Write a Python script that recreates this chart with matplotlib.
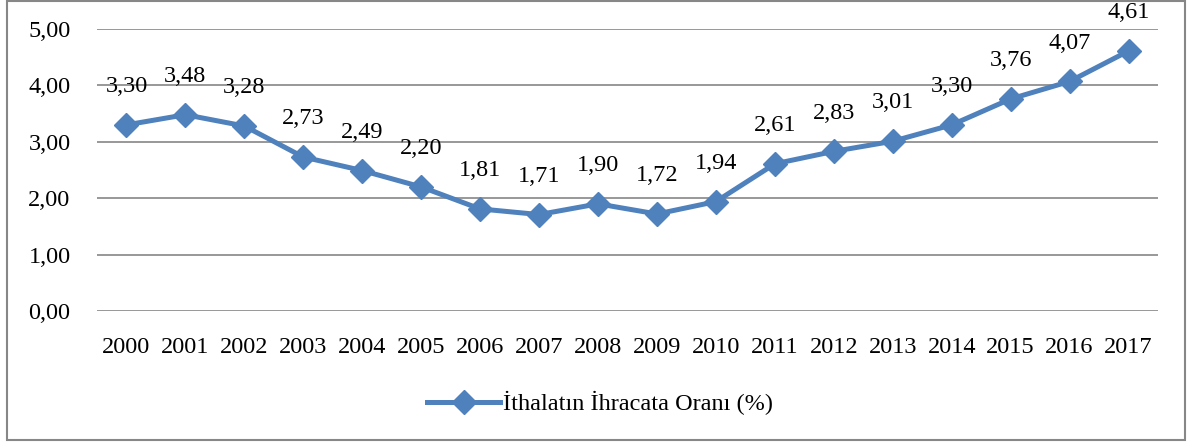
import matplotlib
matplotlib.use('Agg')
import matplotlib.pyplot as plt
from matplotlib.patches import Rectangle

plt.rcParams['font.family'] = ['Liberation Serif', 'DejaVu Serif']

years = ['2000', '2001', '2002', '2003', '2004', '2005', '2006', '2007', '2008',
         '2009', '2010', '2011', '2012', '2013', '2014', '2015', '2016', '2017']
ratio = [3.30, 3.48, 3.28, 2.73, 2.49, 2.20, 1.81, 1.71, 1.90,
         1.72, 1.94, 2.61, 2.83, 3.01, 3.30, 3.76, 4.07, 4.61]
series_name = 'İthalatın İhracata Oranı (%)'
yticks = [0, 1, 2, 3, 4, 5]

blue = '#4F81BD'
grid_c = '#868686'
fs = 17.5

fig = plt.figure(figsize=(11.88, 4.43), dpi=100)
ax = fig.add_axes([97/1188, 1-311/443, (1158-97)/1188, (311-29)/443])

x = list(range(len(years)))
line, = ax.plot(x, ratio, color=blue, lw=3.6, marker='D', ms=12, zorder=3)

for xi, v in zip(x, ratio):
    ax.annotate(f'{v:.2f}'.replace('.', ','), (xi, v), xytext=(0, 20),
                textcoords='offset points', ha='center', va='bottom', fontsize=fs)

ax.set_xlim(-0.5, len(years) - 0.5)
ax.set_ylim(0, 5)
ax.set_yticks(yticks)
ax.set_yticklabels([f'{t:.2f}'.replace('.', ',') for t in yticks], fontsize=fs)
ax.set_xticks(x)
ax.set_xticklabels(years, fontsize=fs)
ax.tick_params(length=0, pad=19)
ax.tick_params(axis='y', pad=19)
ax.grid(axis='y', color=grid_c, lw=1.2)
ax.set_axisbelow(True)
for s in ax.spines.values():
    s.set_visible(False)

fig.legend([line], [series_name], loc='center', bbox_to_anchor=(600/1188, 1-403/443),
           frameon=False, fontsize=fs, handlelength=3, handletextpad=0.1)

fig.patches.append(Rectangle((7/1188, 3/443), 1178/1188, 439/443, transform=fig.transFigure,
                             fill=False, edgecolor='#878787', lw=1.5))

fig.savefig('out.png', dpi=100)
